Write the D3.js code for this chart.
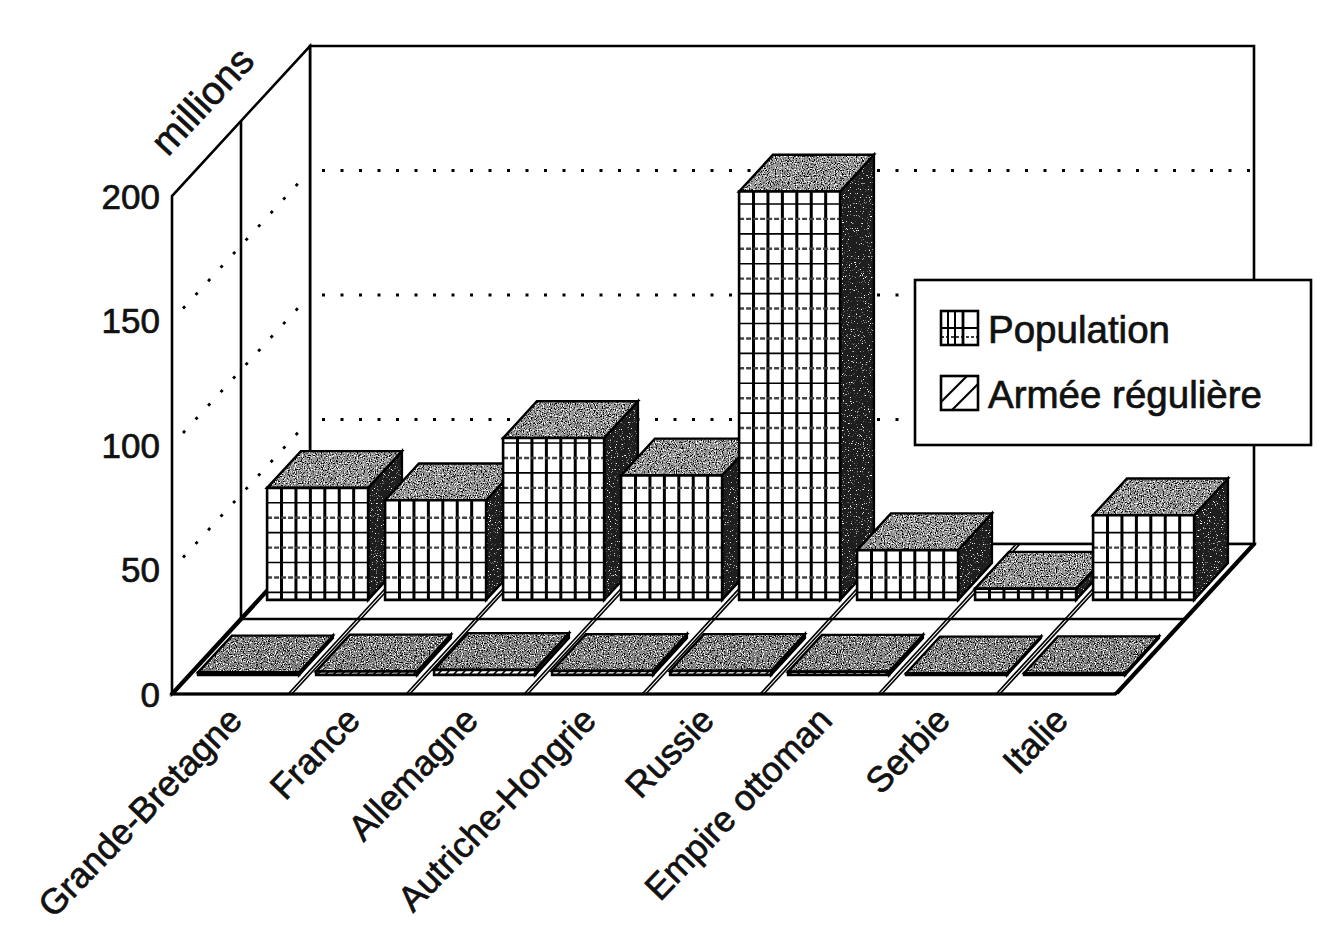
<!DOCTYPE html>
<html><head><meta charset="utf-8">
<script src="https://cdn.jsdelivr.net/npm/d3@7"></script>
<style>
html,body{margin:0;padding:0;background:#fff;}
svg{display:block;}
text{font-family:"Liberation Sans",Arial,Helvetica,sans-serif;fill:#111;stroke:#111;stroke-width:0.7px;}
</style>
</head><body>
<svg id="chart" width="1326" height="926"></svg>
<script>
// ---------------- data ----------------
const categories = ["Grande-Bretagne","France","Allemagne","Autriche-Hongrie","Russie","Empire ottoman","Serbie","Italie"];
const series = ["Armée régulière","Population"];          // front row, back row
const population = [45, 40, 65, 50, 164, 20, 4.5, 34];    // millions
const armee = [1.0, 1.4, 2.0, 1.6, 1.6, 1.3, 0.6, 0.7];   // millions
const yTicks = [0, 50, 100, 150, 200];
const gridValues = [50, 100, 150];
const yAxisTitle = "millions";
const legendLabels = ["Population", "Armée régulière"];

// ---------------- layout ----------------
const X0 = 172, X1 = 1116, DX = 138, DY = -150;
const svg = d3.select("#chart");
const defs = svg.append("defs");

const x = d3.scaleBand().domain(categories).range([X0, X1]).paddingInner(0.144).paddingOuter(0.072);
const y = d3.scaleLinear().domain([0, 200]).range([694, 196]);
const z = d3.scaleBand().domain(series).range([0, 1]).paddingInner(0.51).paddingOuter(0.255);
const P = (xs, v, d) => [xs + DX * d, y(v) + DY * d];
const poly = pts => "M" + pts.map(p => p[0].toFixed(2) + "," + p[1].toFixed(2)).join("L") + "Z";
const line = (a, b) => "M" + a[0] + "," + a[1] + "L" + b[0] + "," + b[1];

// speckle filters
function speckFilter(id, blackK, blackB, whiteK, whiteB, seed) {
  const f = defs.append("filter").attr("id", id).attr("x", 0).attr("y", 0).attr("width", 1).attr("height", 1)
    .attr("color-interpolation-filters", "sRGB");
  f.append("feTurbulence").attr("type", "fractalNoise").attr("baseFrequency", 0.85).attr("numOctaves", 2).attr("seed", seed).attr("result", "t");
  f.append("feColorMatrix").attr("in", "t").attr("type", "matrix")
    .attr("values", `0 0 0 0 0  0 0 0 0 0  0 0 0 0 0  ${blackK} 0 0 0 ${blackB}`).attr("result", "bk");
  f.append("feColorMatrix").attr("in", "t").attr("type", "matrix")
    .attr("values", `0 0 0 0 1  0 0 0 0 1  0 0 0 0 1  ${whiteK} 0 0 0 ${whiteB}`).attr("result", "wh");
  const m = f.append("feMerge").attr("result", "m");
  m.append("feMergeNode").attr("in", "SourceGraphic");
  m.append("feMergeNode").attr("in", "bk");
  m.append("feMergeNode").attr("in", "wh");
  f.append("feComposite").attr("in", "m").attr("in2", "SourceGraphic").attr("operator", "in");
}
speckFilter("speckTop", 7, -3.8, -7, 3.1, 3);
speckFilter("speckSide", 0, 0, -8, 2.9, 7);

// hatch pattern for army fronts
const hatch = defs.append("pattern").attr("id", "hatch").attr("patternUnits", "userSpaceOnUse")
  .attr("width", 8).attr("height", 8);
hatch.append("rect").attr("width", 8).attr("height", 8).attr("fill", "#fff");
hatch.append("path").attr("d", "M-2,10L10,-2M-2,2L2,-2M6,10L10,6").attr("stroke", "#000").attr("stroke-width", 1.6);

// ---------------- walls & floor ----------------
const walls = svg.append("g").attr("fill", "none").attr("stroke", "#000");
walls.append("path").attr("d", poly([P(X0,0,1), P(X1,0,1), P(X1,200,1), P(X0,200,1)]))
  .attr("fill", "#fff").attr("stroke-width", 2.6);
walls.append("path").attr("d", poly([P(X0,0,0), P(X0,0,1), P(X0,200,1), P(X0,200,0)]))
  .attr("fill", "#fff").attr("stroke-width", 2.6);
walls.append("path").attr("d", line(P(X0,0,0.5), P(X0,200,0.5))).attr("stroke-width", 2.6);

// dotted gridlines
const grid = svg.append("g").attr("fill", "none").attr("stroke", "#000")
  .attr("stroke-width", 2.8).attr("stroke-dasharray", "3 15.5");
gridValues.forEach(v => {
  grid.append("path").attr("d", line(P(X0+12,v,1), P(X1,v,1)));
  grid.append("path").attr("d", line(P(X0,v,0.08), P(X0,v,0.98)));
});

// floor
const floor = svg.append("g").attr("fill", "none").attr("stroke", "#000");
floor.append("path").attr("d", poly([P(X0,0,0), P(X1,0,0), P(X1,0,1), P(X0,0,1)])).attr("fill", "#fff").attr("stroke-width", 2.6);
floor.append("path").attr("d", line(P(X0,0,0.5), P(X1,0,0.5))).attr("stroke-width", 2.4);
d3.range(categories.length + 1).forEach(i => {
  const b = X0 + i * x.step();
  [-1.8, 1.8].forEach(o => {
    floor.append("path").attr("d", line(P(b + o,0,0), P(b + o,0,1))).attr("stroke-width", 1.7);
  });
});
floor.append("path").attr("d", line(P(X0,0,0), P(X1,0,0))).attr("stroke-width", 3);

// ---------------- bars ----------------
function drawBar(g, c, v, s, isPop) {
  const d0 = z(s), d1 = z(s) + z.bandwidth();
  const xl = x(c), xr = x(c) + x.bandwidth();
  const front = [P(xl,0,d0), P(xr,0,d0), P(xr,v,d0), P(xl,v,d0)];
  const top = [P(xl,v,d0), P(xr,v,d0), P(xr,v,d1), P(xl,v,d1)];
  const side = [P(xr,0,d0), P(xr,0,d1), P(xr,v,d1), P(xr,v,d0)];
  g.append("path").attr("d", poly(side)).attr("fill", "#1e1e1e").attr("filter", "url(#speckSide)");
  g.append("path").attr("d", poly(side)).attr("fill", "none").attr("stroke", "#000").attr("stroke-width", 2.4);
  g.append("path").attr("d", poly(top)).attr("fill", isPop ? "#969696" : "#858585").attr("filter", "url(#speckTop)");
  g.append("path").attr("d", poly(top)).attr("fill", "none").attr("stroke", "#000").attr("stroke-width", 2.4);
  g.append("path").attr("d", poly(front)).attr("fill", isPop ? "#fff" : "url(#hatch)");
  if (isPop) {
    const fy0 = y(0) + DY * d0, fyT = y(v) + DY * d0, fx = DX * d0;
    const cols = 7;
    for (let k = 1; k < cols; k++) {
      const xx = xl + fx + k * x.bandwidth() / cols;
      g.append("path").attr("d", line([xx, fy0], [xx, fyT])).attr("stroke", "#000").attr("stroke-width", 3);
    }
    for (let j = 0; 3 + 6 * j < v - 1; j++) {
      const yy = y(3 + 6 * j) + DY * d0;
      g.append("path").attr("d", line([xl + fx, yy], [xr + fx, yy]))
        .attr("stroke", j % 2 ? "#444" : "#000")
        .attr("stroke-width", j % 2 ? 2.4 : 1.6)
        .attr("stroke-dasharray", j % 2 ? "5 2" : null);
    }
  }
  g.append("path").attr("d", poly(front)).attr("fill", "none").attr("stroke", "#000").attr("stroke-width", 2.6);
}
const barsBack = svg.append("g");
categories.forEach((c, i) => drawBar(barsBack, c, population[i], "Population", true));
const barsFront = svg.append("g");
categories.forEach((c, i) => drawBar(barsFront, c, armee[i], "Armée régulière", false));

// ---------------- axis labels ----------------
const ax = svg.append("g").attr("font-size", 35).attr("text-anchor", "end");
yTicks.forEach(v => ax.append("text").attr("x", 160).attr("y", y(v) + 12.5).text(v));

svg.append("text").attr("font-size", 39).attr("text-anchor", "middle")
  .attr("transform", `translate(212,110) rotate(-47)`).text(yAxisTitle);

const cl = svg.append("g").attr("font-size", 35.5).attr("text-anchor", "end");
categories.forEach(c => {
  const cx = x(c) + x.bandwidth() / 2 + 13;
  cl.append("text").attr("transform", `translate(${cx},722) rotate(-46)`).text(c);
});

// ---------------- legend ----------------
const lg = svg.append("g");
lg.append("rect").attr("x", 915).attr("y", 280).attr("width", 396).attr("height", 165)
  .attr("fill", "#fff").attr("stroke", "#000").attr("stroke-width", 2.6);
const ic = lg.append("g").attr("stroke", "#000").attr("fill", "none");
ic.append("rect").attr("x", 941).attr("y", 311).attr("width", 37).attr("height", 34).attr("fill", "#fff").attr("stroke-width", 2.6);
[948, 955, 963].forEach(xx => ic.append("path").attr("d", line([xx, 311], [xx, 345])).attr("stroke-width", xx === 963 ? 2.8 : 2));
ic.append("path").attr("d", line([941, 328], [978, 328])).attr("stroke-width", 1.8);
ic.append("path").attr("d", line([941, 337], [978, 337])).attr("stroke-width", 1.6).attr("stroke-dasharray", "3 2");
ic.append("rect").attr("x", 941).attr("y", 376).attr("width", 37).attr("height", 34).attr("fill", "#fff").attr("stroke-width", 2.6);
ic.append("path").attr("d", line([941, 402], [967, 376])).attr("stroke-width", 2.2);
ic.append("path").attr("d", line([952, 410], [978, 384])).attr("stroke-width", 2.2);
lg.append("text").attr("x", 988).attr("y", 343).attr("font-size", 38.5).text(legendLabels[0]);
lg.append("text").attr("x", 988).attr("y", 408).attr("font-size", 38.5).text(legendLabels[1]);
</script>
</body></html>
